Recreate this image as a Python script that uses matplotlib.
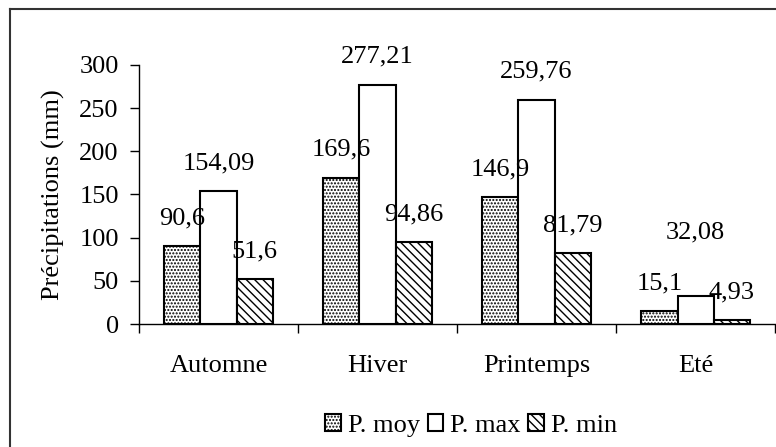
import matplotlib as mpl
import matplotlib.pyplot as plt
from matplotlib.lines import Line2D
import numpy as np

mpl.rcParams["font.family"] = "serif"
mpl.rcParams["font.serif"] = ["Liberation Serif", "DejaVu Serif"]
mpl.rcParams["hatch.linewidth"] = 1.0

saisons = ["Automne", "Hiver", "Printemps", "Eté"]
p_moy = [90.6, 169.6, 146.9, 15.1]
p_max = [154.09, 277.21, 259.76, 32.08]
p_min = [51.6, 94.86, 81.79, 4.93]
lbl_moy = ["90,6", "169,6", "146,9", "15,1"]
lbl_max = ["154,09", "277,21", "259,76", "32,08"]
lbl_min = ["51,6", "94,86", "81,79", "4,93"]

fs = 19
fig = plt.figure(figsize=(7.76, 4.47), dpi=100)
ax = fig.add_axes([0.179, 0.275, 0.82, 0.58])

x = np.arange(len(saisons))
w = 0.228
series = [(p_moy, lbl_moy, "....."), (p_max, lbl_max, ""), (p_min, lbl_min, "\\\\\\\\")]
names = ["P. moy", "P. max", "P. min"]
for i, (vals, lbls, hatch) in enumerate(series):
    pos = x + (i - 1) * w
    ax.bar(pos, vals, w, color="white", edgecolor="black", linewidth=1.5,
           hatch=hatch, label=names[i])
    for j, (xx, v, t) in enumerate(zip(pos, vals, lbls)):
        off = 20
        if i == 1 and j == 3:
            off = 46
        ax.annotate(t, (xx, v), xytext=(0, off), textcoords="offset points",
                    ha="center", va="center", fontsize=fs)

ax.set_xlim(-0.5, 3.5)
ax.set_ylim(0, 300)
ax.set_yticks(range(0, 301, 50))
ax.tick_params(axis="y", labelsize=fs, length=6.5, width=1, direction="out", pad=8)
ax.set_xticks(x)
ax.set_xticklabels(saisons, fontsize=fs)
ax.tick_params(axis="x", which="major", length=0, pad=22)
ax.set_xticks(np.arange(-0.5, 4, 1), minor=True)
ax.tick_params(axis="x", which="minor", length=6.5, width=1, direction="out")
for s in ["top", "right"]:
    ax.spines[s].set_visible(False)
ax.spines["left"].set_linewidth(1)
ax.spines["bottom"].set_linewidth(1)
ax.set_ylabel("Précipitations (mm)", fontsize=fs, labelpad=10)

leg = fig.legend(loc="center", bbox_to_anchor=(0.607, 0.048), ncol=3, frameon=False,
                 fontsize=fs, handlelength=0.6, handleheight=0.6,
                 handletextpad=0.25, columnspacing=0.3)

fig.add_artist(Line2D([10 / 776, 10 / 776], [0, 1 - 9 / 447], color="#333333", lw=1.5,
                      transform=fig.transFigure))
fig.add_artist(Line2D([10 / 776, 1], [1 - 9 / 447, 1 - 9 / 447], color="#333333", lw=1.5,
                      transform=fig.transFigure))

fig.savefig("out.png", dpi=100)
